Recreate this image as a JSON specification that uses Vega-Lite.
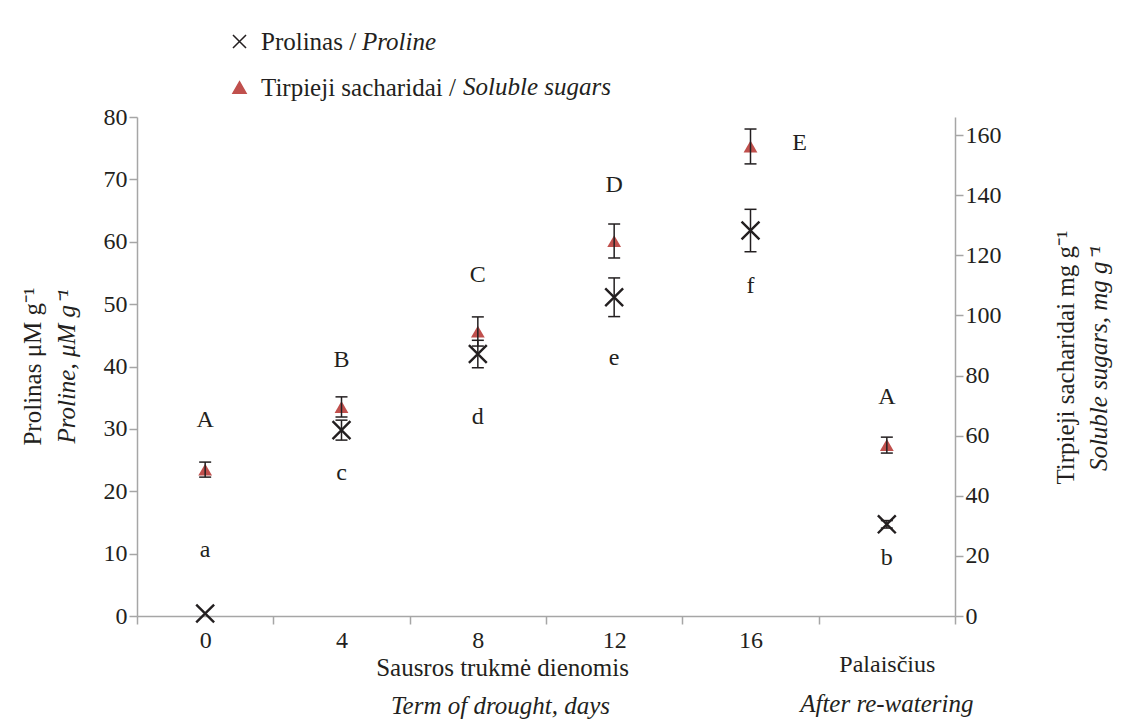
{
  "$schema": "https://vega.github.io/schema/vega-lite/v6.json",
  "width": 818,
  "height": 499,
  "autosize": {"type": "none"},
  "padding": {"left": 137, "top": 117, "right": 171, "bottom": 108},
  "background": "white",
  "datasets": {
    "measurements": [
      {"day": "0", "series": "Prolinas", "series_en": "Proline", "mean": 0.4, "lo": null, "hi": null, "letter": "a", "letter_at": 10.6},
      {"day": "4", "series": "Prolinas", "series_en": "Proline", "mean": 29.8, "lo": 28.2, "hi": 31.4, "letter": "c", "letter_at": 22.9},
      {"day": "8", "series": "Prolinas", "series_en": "Proline", "mean": 42.0, "lo": 39.8, "hi": 44.2, "letter": "d", "letter_at": 31.9},
      {"day": "12", "series": "Prolinas", "series_en": "Proline", "mean": 51.1, "lo": 48.0, "hi": 54.2, "letter": "e", "letter_at": 41.4},
      {"day": "16", "series": "Prolinas", "series_en": "Proline", "mean": 61.8, "lo": 58.4, "hi": 65.2, "letter": "f", "letter_at": 52.9},
      {"day": "Palaisčius", "series": "Prolinas", "series_en": "Proline", "mean": 14.7, "lo": 14.1, "hi": 15.3, "letter": "b", "letter_at": 9.3},
      {"day": "0", "series": "Tirpieji sacharidai", "series_en": "Soluble sugars", "mean": 48.7, "lo": 46.2, "hi": 51.2, "letter": "A", "letter_at": 65.2},
      {"day": "4", "series": "Tirpieji sacharidai", "series_en": "Soluble sugars", "mean": 69.5, "lo": 66.2, "hi": 72.9, "letter": "B", "letter_at": 85.2},
      {"day": "8", "series": "Tirpieji sacharidai", "series_en": "Soluble sugars", "mean": 94.6, "lo": 89.8, "hi": 99.5, "letter": "C", "letter_at": 113.4},
      {"day": "12", "series": "Tirpieji sacharidai", "series_en": "Soluble sugars", "mean": 124.7, "lo": 119.1, "hi": 130.4, "letter": "D", "letter_at": 143.4},
      {"day": "16", "series": "Tirpieji sacharidai", "series_en": "Soluble sugars", "mean": 156.2, "lo": 150.4, "hi": 162.0, "letter": "E", "letter_at": 157.4},
      {"day": "Palaisčius", "series": "Tirpieji sacharidai", "series_en": "Soluble sugars", "mean": 56.9, "lo": 54.2, "hi": 59.5, "letter": "A", "letter_at": 72.9}
    ]
  },
  "data": {"name": "measurements"},
  "layer": [
    {
      "transform": [{"filter": "datum.series === 'Prolinas'"}],
      "encoding": {
        "x": {
          "field": "day", "type": "nominal", "sort": null,
          "scale": {"domain": ["0", "4", "8", "12", "16", "Palaisčius"], "paddingInner": 0, "paddingOuter": 0},
          "axis": {
            "orient": "bottom", "tickBand": "extent", "labelAngle": 0, "labelPadding": 4, "labelLineHeight": 24,
            "labelExpr": "datum.value === 'Palaisčius' ? ['', 'Palaisčius'] : datum.value",
            "title": "Sausros trukmė dienomis", "titleX": 365, "titleY": 51,
            "titleBaseline": "middle", "titleAlign": "center"
          }
        }
      },
      "layer": [
        {
          "mark": {"type": "point", "filled": false, "strokeWidth": 2.4, "opacity": 1},
          "encoding": {
            "y": {
              "field": "mean", "type": "quantitative",
              "scale": {"domain": [0, 80], "nice": false, "zero": true},
              "axis": {
                "orient": "left", "values": [0, 10, 20, 30, 40, 50, 60, 70, 80],
                "title": "Proline, μM g⁻¹", "titleFontStyle": "italic",
                "titleX": -71, "titleY": 249, "titleAngle": 270,
                "titleBaseline": "middle", "titleAlign": "center"
              }
            },
            "shape": {
              "field": "series", "type": "nominal",
              "scale": {"domain": ["Prolinas", "Tirpieji sacharidai"], "range": ["M-1,-1L1,1M-1,1L1,-1", "triangle-up"]},
              "legend": {
                "orient": "none", "legendX": 90, "legendY": -88, "title": null, "padding": 0,
                "symbolSize": 170, "symbolOpacity": 1, "labelOffset": 9, "rowPadding": 20,
                "labelExpr": "datum.label + ' /'",
                "encode": {"symbols": {"update": {
                  "fill": {"signal": "datum.value === 'Prolinas' ? 'transparent' : '#c0504d'"},
                  "stroke": {"signal": "datum.value === 'Prolinas' ? '#8c8c8c' : 'transparent'"},
                  "strokeWidth": {"value": 1.5},
                  "opacity": {"value": 1},
                  "fillOpacity": {"value": 1},
                  "strokeOpacity": {"value": 1}
                }}}
              }
            },
            "color": {
              "field": "series", "type": "nominal",
              "scale": {"domain": ["Prolinas", "Tirpieji sacharidai"], "range": ["#231f20", "#c0504d"]},
              "legend": {
                "orient": "none", "legendX": 90, "legendY": -88, "title": null, "padding": 0,
                "symbolSize": 170, "symbolOpacity": 1, "labelOffset": 9, "rowPadding": 20,
                "labelExpr": "datum.label + ' /'",
                "encode": {"symbols": {"update": {
                  "fill": {"signal": "datum.value === 'Prolinas' ? 'transparent' : '#c0504d'"},
                  "stroke": {"signal": "datum.value === 'Prolinas' ? '#8c8c8c' : 'transparent'"},
                  "strokeWidth": {"value": 1.5},
                  "opacity": {"value": 1},
                  "fillOpacity": {"value": 1},
                  "strokeOpacity": {"value": 1}
                }}}
              }
            },
            "size": {
              "field": "series_en", "type": "ordinal",
              "scale": {"domain": ["Proline"], "range": [320, 320]},
              "legend": {
                "orient": "none", "legendX": 200, "legendY": -88, "title": null, "padding": 0,
                "symbolOpacity": 0, "symbolStrokeWidth": 0, "symbolStrokeColor": "transparent", "symbolFillColor": "transparent",
                "labelOffset": 0, "labelFontStyle": "italic"
              }
            }
          }
        },
        {
          "mark": {"type": "rule", "color": "#231f20", "strokeWidth": 1.5, "opacity": 1},
          "encoding": {
            "y": {
              "field": "lo", "type": "quantitative", "scale": {"domain": [0, 80], "nice": false, "zero": true},
              "axis": {
                "orient": "left", "values": [0, 10, 20, 30, 40, 50, 60, 70, 80],
                "title": "Proline, μM g⁻¹", "titleFontStyle": "italic",
                "titleX": -71, "titleY": 249, "titleAngle": 270,
                "titleBaseline": "middle", "titleAlign": "center"
              }
            },
            "y2": {"field": "hi"}
          }
        },
        {
          "mark": {"type": "tick", "color": "#231f20", "thickness": 1.5, "size": 12, "opacity": 1},
          "encoding": {
            "y": {
              "field": "lo", "type": "quantitative", "scale": {"domain": [0, 80], "nice": false, "zero": true},
              "axis": {
                "orient": "left", "values": [0, 10, 20, 30, 40, 50, 60, 70, 80],
                "title": "Proline, μM g⁻¹", "titleFontStyle": "italic",
                "titleX": -71, "titleY": 249, "titleAngle": 270,
                "titleBaseline": "middle", "titleAlign": "center"
              }
            }
          }
        },
        {
          "mark": {"type": "tick", "color": "#231f20", "thickness": 1.5, "size": 12, "opacity": 1},
          "encoding": {
            "y": {
              "field": "hi", "type": "quantitative", "scale": {"domain": [0, 80], "nice": false, "zero": true},
              "axis": {
                "orient": "left", "values": [0, 10, 20, 30, 40, 50, 60, 70, 80],
                "title": "Proline, μM g⁻¹", "titleFontStyle": "italic",
                "titleX": -71, "titleY": 249, "titleAngle": 270,
                "titleBaseline": "middle", "titleAlign": "center"
              }
            }
          }
        }
      ]
    },
    {
      "transform": [{"filter": "datum.series === 'Tirpieji sacharidai'"}],
      "encoding": {
        "x": {
          "field": "day", "type": "nominal", "sort": null,
          "scale": {"domain": ["0", "4", "8", "12", "16", "Palaisčius"], "paddingInner": 0, "paddingOuter": 0},
          "axis": null
        }
      },
      "layer": [
        {
          "mark": {"type": "point", "filled": true, "size": 190, "fillOpacity": 1},
          "encoding": {
            "y": {
              "field": "mean", "type": "quantitative",
              "scale": {"domain": [0, 166], "nice": false, "zero": true},
              "axis": {
                "orient": "right", "values": [0, 20, 40, 60, 80, 100, 120, 140, 160],
                "title": "Tirpieji sacharidai mg g⁻¹",
                "titleX": 110, "titleY": 240, "titleAngle": 270,
                "titleBaseline": "middle", "titleAlign": "center"
              }
            },
            "shape": {"field": "series", "type": "nominal"},
            "color": {"field": "series", "type": "nominal"},
            "opacity": {
              "field": "series_en", "type": "ordinal",
              "scale": {"domain": ["Soluble sugars"], "range": [1, 1]},
              "legend": {
                "orient": "none", "legendX": 301, "legendY": -43, "title": null, "padding": 0,
                "symbolSize": 0, "symbolOpacity": 0, "symbolStrokeWidth": 0, "labelOffset": 0,
                "labelFontStyle": "italic"
              }
            }
          }
        },
        {
          "mark": {"type": "rule", "color": "#231f20", "strokeWidth": 1.5, "opacity": 1},
          "encoding": {
            "y": {
              "field": "lo", "type": "quantitative", "scale": {"domain": [0, 166], "nice": false, "zero": true},
              "axis": {
                "orient": "right", "values": [0, 20, 40, 60, 80, 100, 120, 140, 160],
                "title": "Tirpieji sacharidai mg g⁻¹",
                "titleX": 110, "titleY": 240, "titleAngle": 270,
                "titleBaseline": "middle", "titleAlign": "center"
              }
            },
            "y2": {"field": "hi"}
          }
        },
        {
          "mark": {"type": "tick", "color": "#231f20", "thickness": 1.5, "size": 12, "opacity": 1},
          "encoding": {
            "y": {
              "field": "lo", "type": "quantitative", "scale": {"domain": [0, 166], "nice": false, "zero": true},
              "axis": {
                "orient": "right", "values": [0, 20, 40, 60, 80, 100, 120, 140, 160],
                "title": "Tirpieji sacharidai mg g⁻¹",
                "titleX": 110, "titleY": 240, "titleAngle": 270,
                "titleBaseline": "middle", "titleAlign": "center"
              }
            }
          }
        },
        {
          "mark": {"type": "tick", "color": "#231f20", "thickness": 1.5, "size": 12, "opacity": 1},
          "encoding": {
            "y": {
              "field": "hi", "type": "quantitative", "scale": {"domain": [0, 166], "nice": false, "zero": true},
              "axis": {
                "orient": "right", "values": [0, 20, 40, 60, 80, 100, 120, 140, 160],
                "title": "Tirpieji sacharidai mg g⁻¹",
                "titleX": 110, "titleY": 240, "titleAngle": 270,
                "titleBaseline": "middle", "titleAlign": "center"
              }
            }
          }
        }
      ]
    },
    {
      "transform": [{"filter": "datum.series === 'Prolinas'"}],
      "mark": {"type": "text", "fontSize": 24, "color": "#231f20", "baseline": "middle"},
      "encoding": {
        "x": {
          "field": "day", "type": "nominal", "sort": null,
          "scale": {"domain": ["0", "4", "8", "12", "16", "Palaisčius"], "paddingInner": 0, "paddingOuter": 0},
          "axis": {
            "orient": "bottom", "domain": false, "ticks": false, "labelAngle": 0,
            "labelExpr": "datum.value === 'Palaisčius' ? 'After re-watering' : ''",
            "labelFontStyle": "italic", "labelFontSize": 25, "labelBaseline": "middle", "labelPadding": 87,
            "title": "Term of drought, days", "titleFontStyle": "italic",
            "titleX": 363, "titleY": 89, "titleBaseline": "middle", "titleAlign": "center"
          }
        },
        "y": {
          "field": "letter_at", "type": "quantitative",
          "scale": {"domain": [0, 80], "nice": false, "zero": true},
          "axis": {
            "orient": "left", "domain": false, "ticks": false, "labels": false,
            "title": "Prolinas μM g⁻¹", "titleX": -105, "titleY": 249, "titleAngle": 270,
            "titleBaseline": "middle", "titleAlign": "center"
          }
        },
        "text": {"field": "letter"}
      }
    },
    {
      "transform": [{"filter": "datum.series === 'Tirpieji sacharidai'"}],
      "encoding": {
        "x": {
          "field": "day", "type": "nominal", "sort": null,
          "scale": {"domain": ["0", "4", "8", "12", "16", "Palaisčius"], "paddingInner": 0, "paddingOuter": 0},
          "axis": null
        },
        "text": {"field": "letter"}
      },
      "layer": [
        {
          "transform": [{"filter": "datum.day !== '16'"}],
          "mark": {"type": "text", "fontSize": 24, "color": "#231f20", "baseline": "middle"},
          "encoding": {
            "y": {
              "field": "letter_at", "type": "quantitative",
              "scale": {"domain": [0, 166], "nice": false, "zero": true},
              "axis": {
                "orient": "right", "domain": false, "ticks": false, "labels": false,
                "title": "Soluble sugars, mg g⁻¹", "titleFontStyle": "italic",
                "titleX": 143, "titleY": 241, "titleAngle": 270,
                "titleBaseline": "middle", "titleAlign": "center"
              }
            }
          }
        },
        {
          "transform": [{"filter": "datum.day === '16'"}],
          "mark": {"type": "text", "fontSize": 24, "color": "#231f20", "baseline": "middle", "dx": 49},
          "encoding": {
            "y": {
              "field": "letter_at", "type": "quantitative",
              "scale": {"domain": [0, 166], "nice": false, "zero": true},
              "axis": {
                "orient": "right", "domain": false, "ticks": false, "labels": false,
                "title": "Soluble sugars, mg g⁻¹", "titleFontStyle": "italic",
                "titleX": 143, "titleY": 241, "titleAngle": 270,
                "titleBaseline": "middle", "titleAlign": "center"
              }
            }
          }
        }
      ]
    }
  ],
  "resolve": {"scale": {"y": "independent"}, "axis": {"x": "independent"}},
  "config": {
    "font": "Liberation Serif",
    "view": {"stroke": null},
    "axis": {
      "grid": false,
      "domainColor": "#a6a6a6", "domainWidth": 1.5,
      "tickColor": "#a6a6a6", "tickWidth": 1.5, "tickSize": 8,
      "labelFont": "Liberation Serif", "labelFontSize": 24, "labelColor": "#231f20",
      "titleFont": "Liberation Serif", "titleFontSize": 25, "titleFontWeight": "normal", "titleColor": "#231f20"
    },
    "legend": {
      "labelFont": "Liberation Serif", "labelFontSize": 25, "labelColor": "#231f20", "labelLimit": 400
    },
    "text": {"font": "Liberation Serif"}
  }
}
